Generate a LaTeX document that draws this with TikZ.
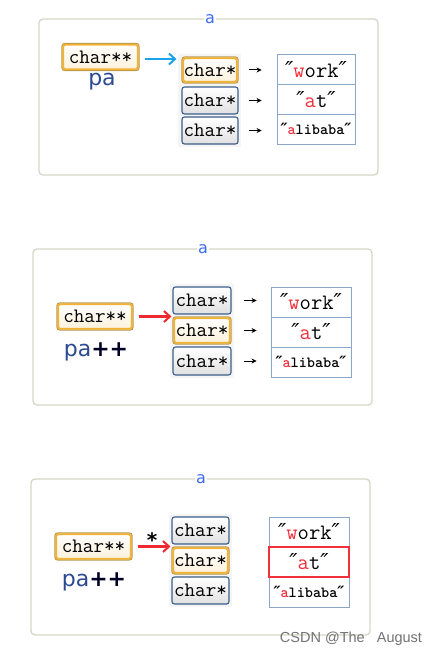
\documentclass[tikz,border=0pt]{standalone}
\usepackage{fontspec}
\usetikzlibrary{calc,arrows.meta,shadings}
\newfontfamily\sansf{DejaVu Sans}
\newfontfamily\wmf{Liberation Sans}
\definecolor{framec}{HTML}{D6D6C8}
\definecolor{boxblue}{HTML}{3A5F8C}
\definecolor{hlor}{HTML}{F2B233}
\definecolor{strblue}{HTML}{8CA6C6}
\definecolor{labblue}{HTML}{3B6CF0}
\definecolor{pablue}{HTML}{2B4A92}
\definecolor{arrblue}{HTML}{19A3EA}
\definecolor{arrred}{HTML}{EE2A30}
\definecolor{qred}{HTML}{F0303A}
\newcommand{\qq}{{\sansf\itshape ″}}
\newcommand{\rl}[1]{\textcolor{qred}{#1}}
\newcommand{\plusplus}{\textcolor{black!85!blue}{\bfseries ++}}
\tikzset{
  frame/.style={draw=framec, line width=1.3pt, rounded corners=4pt},
  flabel/.style={fill=white, inner sep=1.5pt, text=labblue, font=\sansf\fontsize{16}{16}\selectfont},
  ptr/.style={draw=boxblue, line width=1.1pt, rounded corners=2.5pt, top color=white, bottom color=black!12,
    inner sep=0pt, font=\ttfamily\fontsize{20.5}{20.5}\selectfont},
  hlptr/.style={ptr, draw=hlor!70!boxblue, top color=white, bottom color=hlor!18, line width=1.1pt},
  strbox/.style={draw=strblue, line width=0.9pt, fill=white, minimum width=#1, minimum height=30pt, inner sep=0pt},
  bigstr/.style={font=\ttfamily\fontsize{22}{22}\selectfont},
  smallstr/.style={font=\ttfamily\bfseries\fontsize{15.5}{15.5}\selectfont},
  pal/.style={text=pablue, font=\sansf\fontsize{22}{22}\selectfont},
  barrow/.style={draw=arrblue, line width=2.4pt, -{Straight Barb[length=6pt,width=11pt,line width=2pt]}},
  rarrow/.style={draw=arrred, line width=2.4pt, -{Straight Barb[length=6pt,width=11pt,line width=2pt]}},
  sarrow/.style={draw=black, line width=1pt, -{Stealth[length=5pt,width=5pt]}},
  hlin/.style={draw=hlor, line width=1.8pt, rounded corners=1.5pt},
  backdrop/.style={fill=black!4, draw=none}
}
\begin{document}
\begin{tikzpicture}[x=1pt,y=-1pt]
\useasboundingbox (0,0) rectangle (447,658);
\fill[white] (0,0) rectangle (447,658);

% ===== Panel 1 =====
\draw[frame] (39,19) rectangle (378,175);
\node[flabel] (a1) at (210,19) {a};
\fill[backdrop] (178,54) rectangle (241,147);
\node[hlptr, minimum width=77pt, minimum height=27pt] (pp1) at (100.5,57) {char**};
\draw[hlin] ($(pp1.north west)+(1.8,1.8)$) rectangle ($(pp1.south east)+(-1.8,-1.8)$);
\node[pal] (pa1) at (102,82) {pa};
\node[hlptr, minimum width=56pt, minimum height=26pt] (c11) at (210,70) {char*};
\draw[hlin] ($(c11.north west)+(1.8,1.8)$) rectangle ($(c11.south east)+(-1.8,-1.8)$);
\node[ptr, minimum width=56pt, minimum height=27pt] (c12) at (210,100.5) {char*};
\node[ptr, minimum width=56pt, minimum height=27pt] (c13) at (210,130.5) {char*};
\node[strbox=78pt, bigstr, minimum height=29.7pt] (s11) at (316,69.8) {\qq\rl{w}ork\qq};
\node[strbox=78pt, bigstr, minimum height=29.7pt] (s12) at (316,99.5) {\qq\rl{a}t\qq};
\node[strbox=78pt, smallstr, minimum height=29.7pt] (s13) at (316,129.2) {\qq\rl{a}libaba\qq};
\draw[barrow] ($(pp1.east)+(5,2)$) -- ($(pp1.east -| c11.west)+(-5,2)$);
\foreach \i in {1,2,3}{
  \draw[sarrow] ($(c1\i.east)+(10,0)$) -- ($(c1\i.east -| s1\i.west)+(-15,0)$);
}

% ===== Panel 2 =====
\draw[frame] (33,249) rectangle (372,405);
\node[flabel] (a2) at (203,249) {a};
\fill[backdrop] (170,284) rectangle (234,378);
\node[hlptr, minimum width=76pt, minimum height=27pt] (pp2) at (95,316.5) {char**};
\draw[hlin] ($(pp2.north west)+(1.8,1.8)$) rectangle ($(pp2.south east)+(-1.8,-1.8)$);
\node[pal] (pa2) at (96,352) {pa\plusplus};
\node[ptr, minimum width=58pt, minimum height=27pt] (c21) at (202,300.5) {char*};
\node[hlptr, minimum width=58pt, minimum height=27pt] (c22) at (202,330.5) {char*};
\draw[hlin] ($(c22.north west)+(1.8,1.8)$) rectangle ($(c22.south east)+(-1.8,-1.8)$);
\node[ptr, minimum width=58pt, minimum height=28pt] (c23) at (202,361) {char*};
\node[strbox=80pt, bigstr] (s21) at (311,302) {\qq\rl{w}ork\qq};
\node[strbox=80pt, bigstr] (s22) at (311,332) {\qq\rl{a}t\qq};
\node[strbox=80pt, smallstr] (s23) at (311,362) {\qq\rl{a}libaba\qq};
\draw[rarrow] ($(pp2.east)+(5,0)$) -- ($(pp2.east -| c21.west)+(-1,0)$);
\foreach \i in {1,2,3}{
  \draw[sarrow] ($(c2\i.east)+(12,0)$) -- ($(c2\i.east -| s2\i.west)+(-14,0)$);
}

% ===== Panel 3 =====
\draw[frame] (31,479) rectangle (370,635);
\node[flabel] (a3) at (201,479) {a};
\fill[backdrop] (169,514) rectangle (232,607);
\node[hlptr, minimum width=77pt, minimum height=27pt] (pp3) at (93.5,546.5) {char**};
\draw[hlin] ($(pp3.north west)+(1.8,1.8)$) rectangle ($(pp3.south east)+(-1.8,-1.8)$);
\node[pal] (pa3) at (94,582) {pa\plusplus};
\node[ptr, minimum width=57pt, minimum height=27pt] (c31) at (200.5,530.5) {char*};
\node[hlptr, minimum width=57pt, minimum height=27pt] (c32) at (200.5,560.5) {char*};
\draw[hlin] ($(c32.north west)+(1.8,1.8)$) rectangle ($(c32.south east)+(-1.8,-1.8)$);
\node[ptr, minimum width=57pt, minimum height=27pt] (c33) at (200.5,590.5) {char*};
\node[strbox=80pt, bigstr] (s31) at (309,532) {\qq\rl{w}ork\qq};
\node[strbox=80pt, smallstr] (s33) at (309,592) {\qq\rl{a}libaba\qq};
\node[strbox=80pt, bigstr, draw=qred, line width=1.1pt] (s32) at (309,562) {\qq\rl{a}t\qq};
\draw[rarrow] ($(pp3.east)+(5,0)$) -- ($(pp3.east -| c31.west)+(-1,0)$);
\node[font=\sansf\bfseries\fontsize{20}{20}\selectfont, inner sep=0pt] (star) at (152,540) {*};

% watermark
\node[font=\wmf\fontsize{14.5}{14.5}\selectfont, text=black!55, inner sep=0pt] (wm) at (351,639) {CSDN @The\ \ \ August};
\end{tikzpicture}
\end{document}
